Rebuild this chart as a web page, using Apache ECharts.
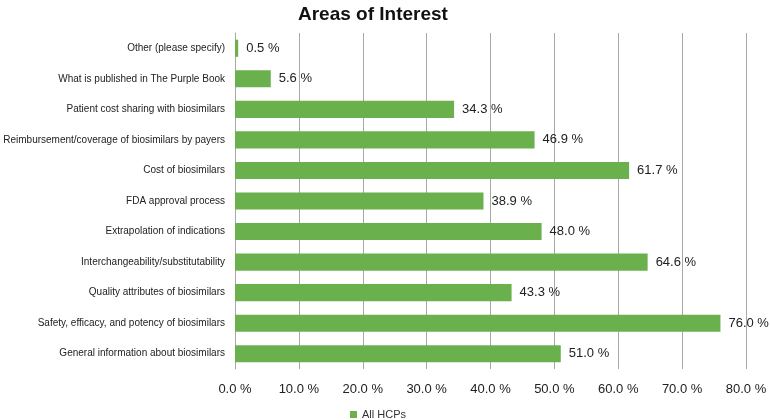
<!DOCTYPE html>
<html><head><meta charset="utf-8">
<script src="https://cdn.jsdelivr.net/npm/echarts@6/dist/echarts.min.js"></script>
<style>html,body{margin:0;padding:0;background:#fff}#c{width:770px;height:420px}</style>
</head><body><div id="c"></div>
<script>
const categories = [
  "General information about biosimilars",
  "Safety, efficacy, and potency of biosimilars",
  "Quality attributes of biosimilars",
  "Interchangeability/substitutability",
  "Extrapolation of indications",
  "FDA approval process",
  "Cost of biosimilars",
  "Reimbursement/coverage of biosimilars by payers",
  "Patient cost sharing with biosimilars",
  "What is published in The Purple Book",
  "Other (please specify)"
];
const allHCPs = [51.0, 76.0, 43.3, 64.6, 48.0, 38.9, 61.7, 46.9, 34.3, 5.6, 0.5];
const seriesName = "All HCPs";
const titleText = "Areas of Interest";

const chart = echarts.init(document.getElementById('c'), null, {renderer: 'canvas'});
chart.setOption({
  animation: false,
  textStyle: {fontFamily: 'Liberation Sans, Arial, sans-serif'},
  title: {text: titleText, left: 293, top: 0,
    textStyle: {fontSize: 19, fontWeight: 'bold', color: '#111', fontFamily: 'Liberation Sans, Arial, sans-serif'}},
  legend: {top: 408, left: 349, itemWidth: 7, itemHeight: 7, icon: 'rect', itemGap: 10, padding: 1,
    textStyle: {fontSize: 11, color: '#333'}, data: [seriesName]},
  grid: {left: 235, right: 24, top: 33, bottom: 51, containLabel: false},
  xAxis: {type: 'value', min: 0, max: 80, interval: 10,
    axisLine: {show: false}, axisTick: {show: false},
    splitLine: {show: true, lineStyle: {color: '#a8a8a8', width: 1}},
    axisLabel: {formatter: v => v.toFixed(1) + ' %', fontSize: 13, color: '#222', margin: 14}},
  yAxis: {type: 'category', data: categories,
    axisLine: {show: true, lineStyle: {color: '#a8a8a8'}}, axisTick: {show: false},
    axisLabel: {fontSize: 10, color: '#222', margin: 10}},
  series: [{name: seriesName, type: 'bar', data: allHCPs, barWidth: '56%',
    itemStyle: {color: '#6ab04c'},
    label: {show: true, position: 'right', distance: 8, fontSize: 13, color: '#222',
      formatter: p => p.value.toFixed(1) + ' %'}}]
});
</script></body></html>
